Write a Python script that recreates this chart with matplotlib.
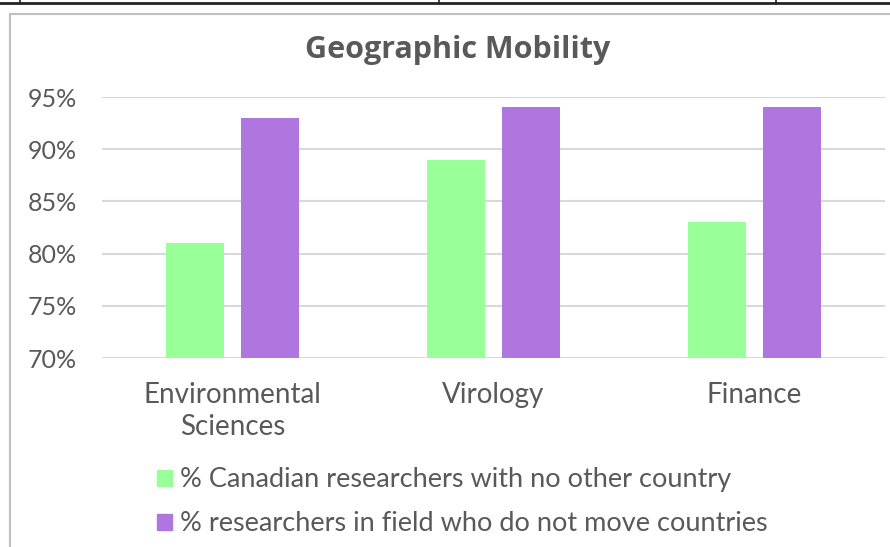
import matplotlib.pyplot as plt
import numpy as np
from matplotlib.patches import Patch
from matplotlib.lines import Line2D

categories = ['Environmental\nSciences', 'Virology', 'Finance']
canadian = [81, 89, 83]
field = [93, 94, 94]
series_labels = ['% Canadian researchers with no other country',
                 '% researchers in field who do not move countries']
yticks = [70, 75, 80, 85, 90, 95]

green = '#99FF99'
purple = '#B076E0'
text_col = '#595959'

plt.rcParams['font.family'] = ['Lato', 'DejaVu Sans']

W, H = 890, 547
fig = plt.figure(figsize=(W / 100, H / 100), dpi=100)

# table line at the very top and chart frame
fig.add_artist(Line2D([0, 1], [1 - 2.5 / H, 1 - 2.5 / H], color='#222222', lw=2))
for xp in [20, 439, 776]:
    fig.add_artist(Line2D([xp / W, xp / W], [1 - 3 / H, 1], color='#222222', lw=1.2))
fig.add_artist(Line2D([9.5 / W, 9.5 / W], [0, 1 - 13.5 / H], color='#BFBFBF', lw=1.5))
fig.add_artist(Line2D([9.5 / W, 1], [1 - 13.5 / H, 1 - 13.5 / H], color='#BFBFBF', lw=1.5))

ax = fig.add_axes([102 / W, 189 / H, 783 / W, 261 / H])
x = np.arange(len(categories))
w = 0.222
off = 0.142
ax.bar(x - off, canadian, w, color=green, zorder=3)
ax.bar(x + off, field, w, color=purple, zorder=3)

ax.set_xlim(-0.5, 2.5)
ax.set_ylim(70, 95)
ax.set_yticks(yticks)
ax.set_yticklabels([f'{v}%' for v in yticks])
ax.set_xticks(x)
ax.set_xticklabels(categories, linespacing=1.3)
ax.grid(axis='y', color='#D9D9D9', lw=1.5, zorder=0)
for s in ax.spines.values():
    s.set_visible(False)
ax.tick_params(axis='y', length=0, pad=18, labelsize=18, labelcolor=text_col)
ax.tick_params(axis='x', length=0, pad=17, labelsize=20, labelcolor=text_col)

fig.text(458 / W, 1 - 50 / H, 'Geographic Mobility', ha='center', va='center',
         fontsize=22, fontweight='bold', color=text_col,
         family=['Open Sans', 'DejaVu Sans'])

handles = [Patch(color=green), Patch(color=purple)]
fig.legend(handles, series_labels, loc='upper left',
           bbox_to_anchor=(133 / W, 1 - 443 / H), frameon=False,
           prop={'size': 19.5}, labelcolor=text_col,
           handlelength=0.55, handleheight=0.55, handletextpad=0.3,
           labelspacing=0.7)

fig.savefig('out.png', dpi=100)
